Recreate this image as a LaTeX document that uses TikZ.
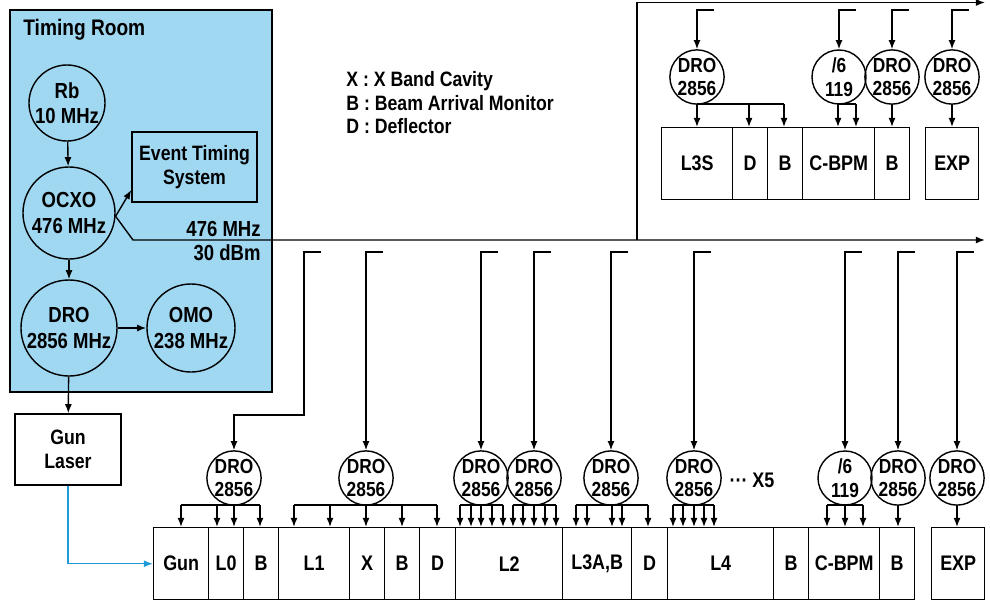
\documentclass[tikz,border=0pt]{standalone}
\usepackage{fontspec}
\setmainfont{Liberation Sans}[FakeStretch=0.85]
\usetikzlibrary{arrows.meta}
\definecolor{roomblue}{RGB}{160,216,242}
\definecolor{laserblue}{RGB}{30,155,215}

\begin{document}
\begin{tikzpicture}[x=0.025cm,y=-0.025cm,>={Latex[length=6.5pt,width=5pt]},line width=1pt,
    every node/.style={font=\bfseries\fontsize{15}{18}\selectfont},
    bigosc/.style={circle,draw,inner sep=0pt,align=center,font=\bfseries\fontsize{15.5}{18}\selectfont},
    osc/.style={circle,draw,inner sep=0pt,minimum size=1.35cm,align=center,
                font=\bfseries\fontsize{14.5}{17}\selectfont},
    unit/.style={draw,inner sep=0pt,minimum height=1.8cm,anchor=north west},
    textbox/.style={draw,inner sep=0pt,align=center,font=\bfseries\fontsize{14.8}{17.5}\selectfont}]
    \useasboundingbox (0,0) rectangle (990,606);

    % timing room
    \draw[fill=roomblue] (10,10) rectangle (272,392);
    \node[anchor=west,font=\bfseries\fontsize{16}{18}\selectfont] (room) at (18,30) {Timing Room};
    \node[bigosc,minimum size=1.9cm] (rb) at (67,103) {Rb\\10 MHz};
    \node[bigosc,minimum size=2.3cm] (ocxo) at (69,213) {OCXO\\476 MHz};
    \node[bigosc,minimum size=2.4cm] (dro) at (69,328) {DRO\\2856 MHz};
    \node[bigosc,minimum size=2.2cm] (omo) at (191,328) {OMO\\238 MHz};
    \node[textbox,minimum width=3.125cm,minimum height=1.75cm] (ets) at (194.5,167) {Event Timing\\System};
    \node[anchor=east,align=right,font=\bfseries\fontsize{15.5}{17.2}\selectfont] (pwr) at (266,241) {476 MHz\\30 dBm};
    \node[textbox,minimum width=2.65cm,minimum height=1.775cm] (laser) at (68,449.5) {Gun\\Laser};

    \node[anchor=west,align=left,font=\bfseries\fontsize{14.8}{16.7}\selectfont] (legend) at (341,103)
        {X : X Band Cavity\\B : Beam Arrival Monitor\\D : Deflector};

    \draw[->] (rb) -- (ocxo);
    \draw[->] (ocxo) -- (dro);
    \draw[->] (dro) -- (omo);
    \draw[->] (ocxo.-4) -- (ets.200);
    \draw[->] (dro) -- (laser);

    % main line
    \coordinate (kink) at (133,240);
    \coordinate (busend) at (985,240);
    \coordinate (split) at (637,240);
    \coordinate (topend) at (985,2.5);
    \draw[->] (ocxo.-4) -- (kink) -- (busend);
    \draw[->] (split) |- (topend);

    % beamline
    \foreach \n/\a/\b/\lab in {gun/153/208/Gun, lzero/208/243/L0, bamA/243/278/B, lone/278/349/L1,
        xband/349/384/X, bamB/384/419/B, defA/419/455/D, ltwo/455/562/L2, lthree/562/631/{L3A,B},
        defB/631/667/D, lfour/667/773/L4, bamC/773/808/B, cbpm/808/879/C-BPM, bamD/879/914/B,
        expt/931/984/EXP}
        \node[unit,minimum width={(\b-\a)*0.025cm}] (\n) at (\a,527) {\lab};
    \foreach \n/\a/\b/\lab in {tlthree/661/732/L3S, tdef/732/767/D, tbam/767/802/B,
        tcbpm/802/874/C-BPM, tbamB/874/909/B, texp/925/978/EXP}
        \node[unit,minimum width={(\b-\a)*0.025cm}] (\n) at (\a,127) {\lab};

    \draw[->,laserblue] (laser.south) |- (gun.west);

    % oscillators
    \node[osc] (dgun) at (234,478) {DRO\\2856};
    \node[osc] (done) at (366,478) {DRO\\2856};
    \node[osc] (dtwoA) at (481,478) {DRO\\2856};
    \node[osc] (dtwoB) at (534,478) {DRO\\2856};
    \node[osc] (dthree) at (611,478) {DRO\\2856};
    \node[osc] (dfour) at (694,478) {DRO\\2856};
    \node (rep) at (752,480) {··· X5};
    \node[osc] (ddiv) at (845,478) {/6\\119};
    \node[osc] (dbam) at (898,478) {DRO\\2856};
    \node[osc] (dexp) at (957,478) {DRO\\2856};

    \node[osc] (tdA) at (697,77) {DRO\\2856};
    \node[osc] (tdiv) at (839,77) {/6\\119};
    \node[osc] (tdB) at (892,77) {DRO\\2856};
    \node[osc] (tdC) at (952,77) {DRO\\2856};

    % taps
    \draw[->] (321,252) -| (304,415) -| (dgun.north);
    \foreach \n in {done,dtwoA,dtwoB,dthree,dfour,ddiv,dbam,dexp}
        \draw[->] (\n.north |- 0,252) ++(17,0) -| (\n.north);
    \foreach \n in {tdA,tdiv,tdB,tdC}
        \draw[->] (\n.north |- 0,10) ++(17,0) -| (\n.north);

    % fan out
    \draw (181,505) -- (260,505);
    \foreach \x in {181,217,234,260} \draw[->] (\x,505) -- (\x,0 |- gun.north);
    \draw (294,505) -- (437,505);
    \foreach \x in {294,330,366,402,437} \draw[->] (\x,505) -- (\x,0 |- gun.north);
    \draw (460,505) -- (503,505);
    \foreach \x in {460,471,481,492,503} \draw[->] (\x,505) -- (\x,0 |- gun.north);
    \draw (513,505) -- (556,505);
    \foreach \x in {513,523,534,545,556} \draw[->] (\x,505) -- (\x,0 |- gun.north);
    \draw (576,505) -- (648,505);
    \foreach \x in {576,587,612,622,648} \draw[->] (\x,505) -- (\x,0 |- gun.north);
    \draw (673,505) -- (714,505);
    \foreach \x in {673,683,694,704,714} \draw[->] (\x,505) -- (\x,0 |- gun.north);
    \draw (827,505) -- (863,505);
    \foreach \x in {827,845,863} \draw[->] (\x,505) -- (\x,0 |- gun.north);
    \draw[->] (dbam) -- (dbam |- gun.north);
    \draw[->] (dexp) -- (dexp |- gun.north);

    \draw (697,104) -- (784,104);
    \foreach \x in {697,749,784} \draw[->] (\x,104) -- (\x,0 |- tdef.north);
    \draw (838,104) -- (856,104);
    \foreach \x in {838,856} \draw[->] (\x,104) -- (\x,0 |- tdef.north);
    \draw[->] (tdB) -- (tdB |- tdef.north);
    \draw[->] (tdC) -- (tdC |- tdef.north);
\end{tikzpicture}
\end{document}
